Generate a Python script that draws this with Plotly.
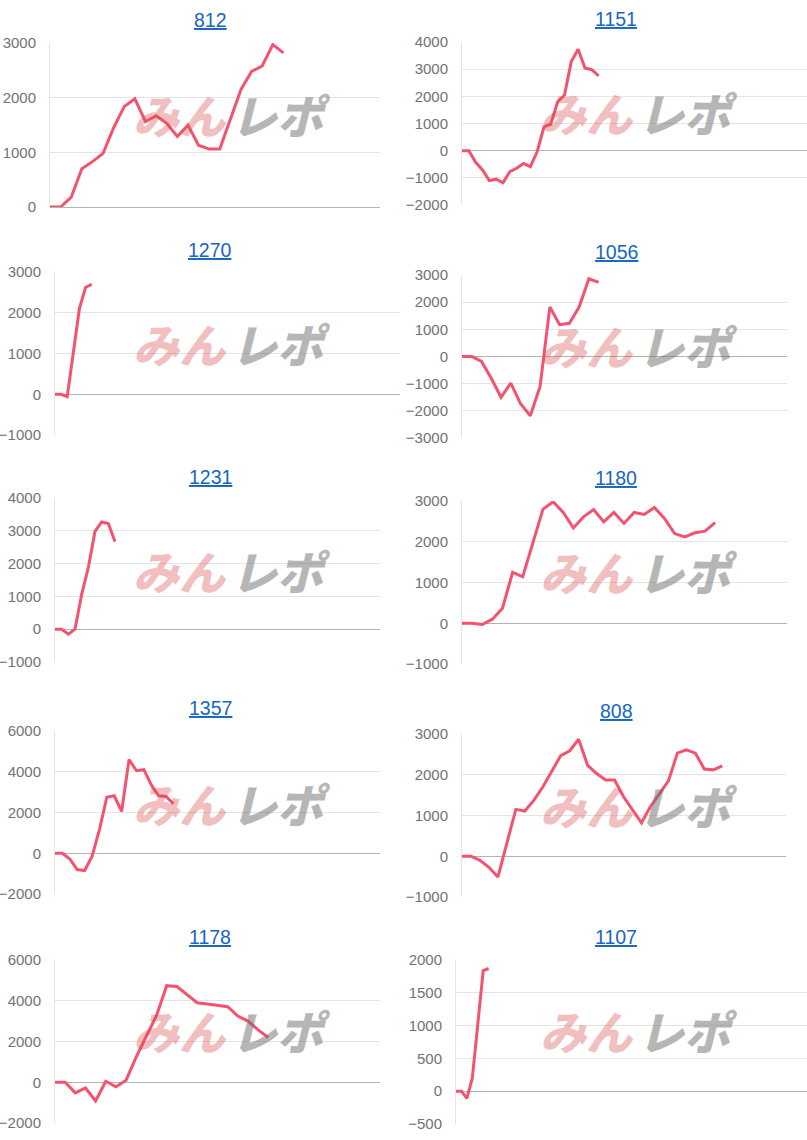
import plotly.graph_objects as go

W, H = 807, 1140

# ---------------- data ----------------
titles = ["812", "1151", "1270", "1056", "1231", "1180", "1357", "808", "1178", "1107"]

v812 = [0, 0, 180, 700, 830, 980, 1450, 1840, 1980, 1560, 1670, 1530, 1290, 1500,
        1130, 1060, 1060, 1600, 2150, 2480, 2580, 2970, 2820]
v1151 = [0, 0, -430, -710, -1100, -1050, -1180, -770, -650, -470, -590, -40, 880,
         980, 1800, 2050, 3280, 3730, 3040, 2980, 2750]
v1270 = [0, 0, -60, 1000, 2100, 2620, 2700]
v1056 = [0, 0, -180, -800, -1500, -980, -1740, -2180, -1100, 1820, 1170, 1220,
         1820, 2860, 2730]
v1231 = [0, 0, -150, 0, 1060, 1880, 2980, 3270, 3220, 2670]
v1180 = [0, 0, -30, 100, 370, 1250, 1140, 1960, 2800, 2980, 2720, 2340, 2610,
         2790, 2490, 2720, 2450, 2720, 2670, 2840, 2570, 2200, 2120, 2220, 2260, 2470]
v1357 = [0, 0, -280, -800, -850, -160, 1150, 2750, 2820, 2050, 4600, 4050, 4100,
         3360, 2820, 2790, 2430]
v808 = [0, 0, -100, -270, -510, 310, 1150, 1110, 1370, 1700, 2100, 2470, 2590,
        2870, 2230, 2030, 1870, 1870, 1460, 1140, 820, 1220, 1540, 1850, 2530,
        2610, 2530, 2140, 2120, 2220]
v1178 = [0, 0, -520, -280, -920, 50, -220, 100, 1250, 2300, 3280, 4740, 4700,
         4300, 3900, 3840, 3770, 3710, 3250, 3000, 2570, 2200]
v1107 = [0, 0, -110, 200, 1020, 1840, 1870]

series = [v812, v1151, v1270, v1056, v1231, v1180, v1357, v808, v1178, v1107]

# axis extents (x in sample slots, y in values)
x_span = [31.1, 50.5, 56.5, 33.3, 48.75, 32.1, 43.9, 36.1, 32.0, 64.5]
y_min = [0, -2000, -1000, -3000, -1000, -1000, -2000, -1000, -2000, -500]
y_max = [3000, 4000, 3000, 3000, 4000, 3000, 6000, 3000, 6000, 2000]
y_step = [1000, 1000, 1000, 1000, 1000, 1000, 2000, 1000, 2000, 500]

# ---------------- layout geometry (page pixels) ----------------
plot_x = [(50, 380), (462, 807), (55, 400), (462, 787), (55, 380),
          (462, 787), (55, 380), (462, 786), (55, 380), (456, 807)]
plot_y = [(43, 207), (42, 205), (272, 435), (275, 438), (498, 662),
          (501, 664), (731, 894), (734, 897), (960, 1123), (960, 1124)]
title_y = [20, 19, 250, 252, 477, 478, 708, 711, 937, 937]
title_x = [210, 616]
logo_y = [114, 112, 343, 345, 570, 571, 803, 805, 1030, 1030]
logo_left = [(180, 281), (587, 688)]

LINE = "#f4536f"
FONT = "Liberation Sans, Arial, sans-serif"


def px_x(v):
    return min(1.0, max(0.0, v / W))


def px_y(v):
    return min(1.0, max(0.0, 1 - v / H))


fig = go.Figure()
layout = dict(
    width=W, height=H,
    margin=dict(l=0, r=0, t=0, b=0, autoexpand=False),
    paper_bgcolor="white", plot_bgcolor="white",
    showlegend=False,
    font=dict(family=FONT),
)
annotations = []

for i, vals in enumerate(series):
    n = i + 1
    xs = "x" if n == 1 else f"x{n}"
    ys = "y" if n == 1 else f"y{n}"
    xk = "xaxis" if n == 1 else f"xaxis{n}"
    yk = "yaxis" if n == 1 else f"yaxis{n}"
    col = i % 2

    fig.add_trace(go.Scatter(
        x=list(range(len(vals))), y=vals, mode="lines",
        line=dict(color=LINE, width=3), xaxis=xs, yaxis=ys,
        hoverinfo="skip",
    ))

    x0, x1 = plot_x[i]
    y0, y1 = plot_y[i]
    layout[xk] = dict(
        domain=[px_x(x0), px_x(x1)], anchor=ys, range=[0, x_span[i]],
        showgrid=False, zeroline=False, showticklabels=False, showline=False,
        ticks="", fixedrange=True, automargin=False,
    )
    layout[yk] = dict(
        domain=[px_y(y1), px_y(y0)], anchor=xs,
        range=[y_min[i], y_max[i]], tick0=0, dtick=y_step[i],
        showgrid=True, gridcolor="#e4e4e4", gridwidth=1,
        zeroline=True, zerolinecolor="#b4b4b4", zerolinewidth=1,
        showline=True, linecolor="#e4e4e4", linewidth=1,
        ticks="", ticklabelstandoff=10,
        tickfont=dict(family=FONT, size=15, color="#727272"),
        fixedrange=True, automargin=False,
    )

    annotations.append(dict(
        x=px_x(title_x[col]), y=px_y(title_y[i]), xref="paper", yref="paper",
        text=f'<span style="text-decoration:underline">{titles[i]}</span>',
        showarrow=False, xanchor="center", yanchor="middle",
        font=dict(family=FONT, size=19.5, color="#1766bf"),
    ))
    lx1, lx2 = logo_left[col]
    annotations.append(dict(
        x=px_x(lx1), y=px_y(logo_y[i]), xref="paper", yref="paper",
        text="みん", showarrow=False, xanchor="center", yanchor="middle",
        font=dict(family="Noto Sans CJK JP", size=46, color="rgba(215,70,70,0.36)",
                  weight=900, style="italic"),
    ))
    annotations.append(dict(
        x=px_x(lx2), y=px_y(logo_y[i]), xref="paper", yref="paper",
        text="レポ", showarrow=False, xanchor="center", yanchor="middle",
        font=dict(family="Noto Sans CJK JP", size=46, color="rgba(110,110,110,0.5)",
                  weight=900, style="italic"),
    ))

layout["annotations"] = annotations
fig.update_layout(**layout)

pin_page = (
    "document.documentElement.style.overflow='hidden';"
    "document.body.style.margin='0';"
    "document.body.style.overflow='hidden';"
    "var d=document.getElementById('{plot_id}');"
    "d.style.position='fixed';d.style.left='0px';d.style.top='0px';"
)

fig.write_html("out.html", config={"displayModeBar": False}, post_script=pin_page)
